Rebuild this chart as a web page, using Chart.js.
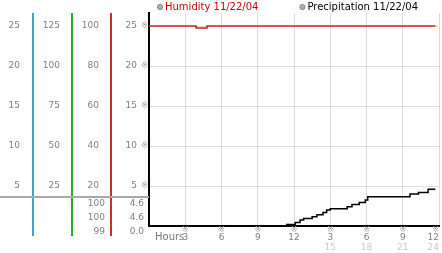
<!DOCTYPE html>
<html><head><meta charset="utf-8">
<script src="https://cdn.jsdelivr.net/npm/chart.js@4/dist/chart.umd.min.js"></script>
<style>html,body{margin:0;padding:0;background:#fff;overflow:hidden}#wrap{position:relative;width:442px;height:253px}</style>
</head><body><div id="wrap"><canvas id="c" width="442" height="253"></canvas></div>
<script>
// ---- data ----
const humidityHours  = [0, 3.9, 4.8, 23.7];
const humidityValues = [100, 99, 100, 100];
const precipHours  = [0, 11.4, 12.1, 12.5, 12.8, 13.5, 13.9, 14.4, 14.7, 15.0, 16.4, 16.8, 17.4, 17.9, 18.1, 21.6, 22.3, 23.1, 23.7];
const precipValues = [0, 0.2, 0.45, 0.75, 0.95, 1.15, 1.4, 1.7, 2.0, 2.15, 2.4, 2.7, 2.95, 3.25, 3.65, 4.0, 4.2, 4.6, 4.6];
const hourTicks     = [0, 3, 6, 9, 12, 15, 18, 21, 24];
const markLabels    = ['', '※', '※', '※', '※', '※', '※', '※', '※'];
const clockLabels   = ['', '3', '6', '9', '12', '3', '6', '9', '12'];
const dayHourLabels = ['', '', '', '', '', '15', '18', '21', '24'];
const col1Ticks     = [5, 10, 15, 20, 25];
const col2Ticks     = [25, 50, 75, 100, 125];
const humidityTicks = [20, 40, 60, 80, 100];
const precipTicks   = [5, 10, 15, 20, 25];
const humidityStats = ['100', '100', '99'];
const precipStats   = ['4.6', '4.6', '0.0'];
const legendLabels  = ['Humidity 11/22/04', 'Precipitation 11/22/04'];
const axisTitle     = 'Hours';

const FAM = '"DejaVu Sans", sans-serif';
const fixY = w => s => { s.width = w; s.paddingTop = 0; s.paddingBottom = 0; };
const fixX = h => s => { s.height = h; s.paddingLeft = 0; s.paddingRight = 0; };
const setTicks = arr => s => { s.ticks = arr.map(v => ({ value: v })); };

function sideAxis(weight, max, ticks, width, pad, labelFn) {
  return {
    type: 'linear', position: 'left', display: true, weight, min: 0, max,
    afterBuildTicks: setTicks(ticks), afterFit: fixY(width),
    grid: { display: false, drawTicks: false }, border: { display: false },
    ticks: { padding: pad, color: '#808080', font: { family: FAM, size: 9 }, autoSkip: false,
             callback: labelFn || (v => String(v)) }
  };
}
function bottomAxis(weight, height, labels, color, size, lh) {
  return {
    type: 'linear', position: 'bottom', display: true, weight, min: 0, max: 24,
    afterBuildTicks: setTicks(hourTicks), afterFit: fixX(height),
    grid: { display: false, drawTicks: false }, border: { display: false },
    ticks: { padding: 0, color, font: { family: FAM, size, lineHeight: lh + 'px' }, autoSkip: false,
             align: 'inner', maxRotation: 0, minRotation: 0, callback: (v, i) => labels[i] }
  };
}

const sideLines = [['y1', '#3aa6d0'], ['y2', '#2ea82e'], ['yh', '#c83030']];

const decor = {
  id: 'decor',
  beforeDatasetsDraw(chart) {
    const { ctx, chartArea: a, scales: s } = chart;
    ctx.save();
    ctx.lineWidth = 2;
    sideLines.forEach(([id, col]) => {
      ctx.strokeStyle = col;
      ctx.beginPath(); ctx.moveTo(s[id].right, a.top); ctx.lineTo(s[id].right, a.bottom + 10); ctx.stroke();
    });
    // separator of the value table
    ctx.strokeStyle = '#a8a8a8';
    ctx.beginPath(); ctx.moveTo(0, a.bottom - 29); ctx.lineTo(a.left, a.bottom - 29); ctx.stroke();
    // value table
    ctx.fillStyle = '#808080';
    ctx.font = '9px ' + FAM;
    ctx.textBaseline = 'middle';
    ctx.textAlign = 'right';
    humidityStats.forEach((t, i) => ctx.fillText(t, s.yh.right - 6, a.bottom - 22 + i * 14));
    precipStats.forEach((t, i) => ctx.fillText(t, s.y4.right + 3, a.bottom - 22 + i * 14));
    // x axis word
    ctx.textAlign = 'left';
    ctx.fillStyle = '#777';
    ctx.font = '10px ' + FAM;
    ctx.fillText(axisTitle, a.left + 6, s.xc.top + 4.5);
    // legend
    ctx.font = '10px ' + FAM;
    let x = a.left + 8;
    chart.data.datasets.forEach(ds => {
      ctx.beginPath(); ctx.arc(x + 3, a.top - 6, 2.6, 0, Math.PI * 2);
      ctx.fillStyle = '#b0b0b0'; ctx.fill();
      ctx.lineWidth = 1; ctx.strokeStyle = '#888'; ctx.stroke();
      ctx.fillStyle = ds.legendColor;
      ctx.fillText(ds.label, x + 8, a.top - 6);
      x += 8 + ctx.measureText(ds.label).width + 41;
    });
    ctx.restore();
  }
};

new Chart(document.getElementById('c'), {
  type: 'line',
  data: {
    datasets: [
      { label: legendLabels[0], legendColor: '#cc0000', xAxisID: 'x', yAxisID: 'yh',
        data: humidityHours.map((h, i) => ({ x: h, y: humidityValues[i] })),
        borderColor: '#cc2020', borderWidth: 1.5, stepped: true, pointRadius: 0, fill: false },
      { label: legendLabels[1], legendColor: '#000000', xAxisID: 'x', yAxisID: 'y',
        data: precipHours.map((h, i) => ({ x: h, y: precipValues[i] })),
        borderColor: '#000000', borderWidth: 1.5, stepped: true, pointRadius: 0, fill: false }
    ]
  },
  options: {
    responsive: false, animation: false, devicePixelRatio: 1,
    layout: { autoPadding: false, padding: { top: 13, right: 3, bottom: 0, left: 0 } },
    plugins: { legend: { display: false }, tooltip: { enabled: false } },
    scales: {
      y: {
        type: 'linear', position: 'left', display: true, weight: 0, min: 0, max: 26.625,
        afterBuildTicks: setTicks(precipTicks), afterFit: fixY(8),
        grid: { color: '#dcdcdc', lineWidth: 1, drawTicks: false },
        border: { display: true, color: '#000', width: 2 },
        ticks: { padding: 1, color: '#a0a0a0', font: { family: FAM, size: 8 }, autoSkip: false, callback: () => '※' }
      },
      y4: sideAxis(1, 26.625, precipTicks, 30, 4),
      yh: sideAxis(2, 106.5, humidityTicks, 39, 12),
      y2: sideAxis(3, 133.125, col2Ticks, 39, 12),
      y1: sideAxis(4, 26.625, col1Ticks, 33, 13),
      x: {
        type: 'linear', position: 'bottom', display: true, weight: 0, min: 0, max: 24,
        afterBuildTicks: setTicks(hourTicks), afterFit: fixX(7),
        grid: { color: '#dcdcdc', lineWidth: 1, drawTicks: false },
        border: { display: true, color: '#000', width: 2 },
        ticks: { padding: 0, color: '#a0a0a0', font: { family: FAM, size: 8, lineHeight: '7px' }, autoSkip: false,
                 align: 'inner', maxRotation: 0, minRotation: 0, callback: (v, i) => markLabels[i] }
      },
      xc: bottomAxis(1, 10, clockLabels, '#808080', 9, 9),
      xd: bottomAxis(2, 10, dayHourLabels, '#c8c8c8', 9, 10)
    }
  },
  plugins: [decor]
});
</script></body></html>
